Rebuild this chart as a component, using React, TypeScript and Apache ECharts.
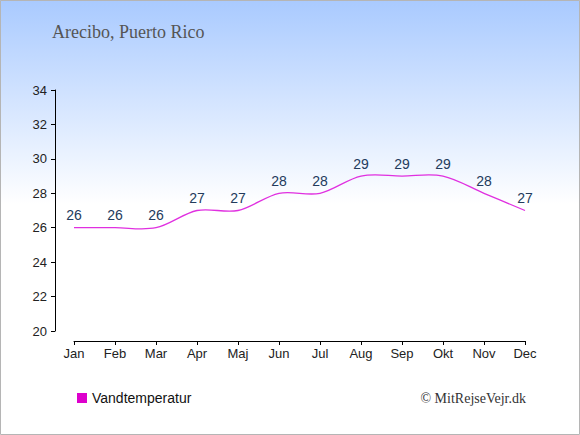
import React, { useEffect, useRef } from "react";
import * as echarts from "echarts";

const months = ["Jan", "Feb", "Mar", "Apr", "Maj", "Jun", "Jul", "Aug", "Sep", "Okt", "Nov", "Dec"];
const waterTemp = [26, 26, 26, 27, 27, 28, 28, 29, 29, 29, 28, 27];
const yMin = 20;
const yMax = 34;
const yStep = 2;
const seriesName = "Vandtemperatur";
const titleText = "Arecibo, Puerto Rico";
const creditText = "© MitRejseVejr.dk";

export default function App() {
  const ref = useRef<HTMLDivElement>(null);
  useEffect(() => {
    if (!ref.current) return;
    const chart = echarts.init(ref.current, null, { renderer: "svg" });
    chart.setOption({
      animation: false,
      backgroundColor: new echarts.graphic.LinearGradient(0, 0, 0, 1, [
        { offset: 0, color: "#a9caff" },
        { offset: 0.47, color: "#ffffff" },
        { offset: 1, color: "#ffffff" },
      ]),
      grid: { left: 74, right: 55, top: 90, bottom: 104 },
      legend: {
        show: true,
        left: 77,
        top: 391,
        padding: 0,
        icon: "rect",
        itemWidth: 10,
        itemHeight: 10,
        itemGap: 8,
        textStyle: { fontFamily: "Liberation Sans, Arial", fontSize: 14, color: "#111" },
        data: [{ name: seriesName, icon: "rect", itemStyle: { color: "#dd00cc", opacity: 1 } }],
      },
      xAxis: {
        type: "category",
        data: months,
        boundaryGap: false,
        offset: 10,
        axisLine: { lineStyle: { color: "#000", width: 1 } },
        axisTick: { show: true, length: 4, lineStyle: { color: "#000" } },
        axisLabel: { fontFamily: "Liberation Sans, Arial", fontSize: 13, color: "#222", margin: 6 },
        splitLine: { show: false },
      },
      yAxis: {
        type: "value",
        min: yMin,
        max: yMax,
        interval: yStep,
        offset: 19,
        axisLine: { show: true, lineStyle: { color: "#000", width: 1 } },
        axisTick: { show: true, length: 4, lineStyle: { color: "#000" } },
        axisLabel: { fontFamily: "Liberation Sans, Arial", fontSize: 13, color: "#222", margin: 8 },
        splitLine: { show: false },
      },
      series: [
        {
          name: seriesName,
          type: "custom",
          color: "#dd00cc",
          data: [[0, waterTemp[0]]],
          renderItem: (params: any, api: any) => {
            const pts = waterTemp.map((v, i) => api.coord([i, v]));
            const n = pts.length;
            const P = (i: number) => pts[Math.max(0, Math.min(n - 1, i))];
            let d = `M${pts[0][0]} ${pts[0][1]}`;
            for (let i = 0; i < n - 1; i++) {
              const p0 = P(i - 1), p1 = P(i), p2 = P(i + 1), p3 = P(i + 2);
              const c1x = p1[0] + (p2[0] - p0[0]) / 6;
              const c1y = p1[1] + (p2[1] - p0[1]) / 6;
              const c2x = p2[0] - (p3[0] - p1[0]) / 6;
              const c2y = p2[1] - (p3[1] - p1[1]) / 6;
              d += ` C${c1x} ${c1y} ${c2x} ${c2y} ${p2[0]} ${p2[1]}`;
            }
            return {
              type: "path",
              shape: { pathData: d },
              style: { fill: "none", stroke: "#e030e0", lineWidth: 1.3 },
              silent: true,
            };
          },
        },
        {
          name: "labels",
          type: "line",
          data: waterTemp,
          symbol: "circle",
          symbolSize: 1,
          showSymbol: true,
          itemStyle: { color: "transparent" },
          lineStyle: { opacity: 0, width: 0 },
          label: {
            show: true,
            position: "top",
            distance: 5,
            fontFamily: "Liberation Sans, Arial",
            fontSize: 14,
            color: "#233b5c",
          },
        },
      ],
      graphic: [
        {
          type: "rect",
          shape: { x: 0.5, y: 0.5, width: 579, height: 434 },
          style: { fill: "none", stroke: "#b5b5b5", lineWidth: 1 },
          silent: true,
        },
        {
          type: "text",
          x: 52,
          y: 32,
          style: {
            text: titleText,
            font: "18px 'Liberation Serif', serif",
            fill: "#555555",
            verticalAlign: "middle",
          },
        },
        {
          type: "text",
          x: 526,
          y: 398,
          style: {
            text: creditText,
            font: "14px 'Liberation Serif', serif",
            fill: "#333333",
            align: "right",
            verticalAlign: "middle",
          },
        },
      ],
    });
    return () => chart.dispose();
  }, []);
  return <div ref={ref} style={{ position: "fixed", left: 0, top: 0, width: 580, height: 435 }} />;
}
